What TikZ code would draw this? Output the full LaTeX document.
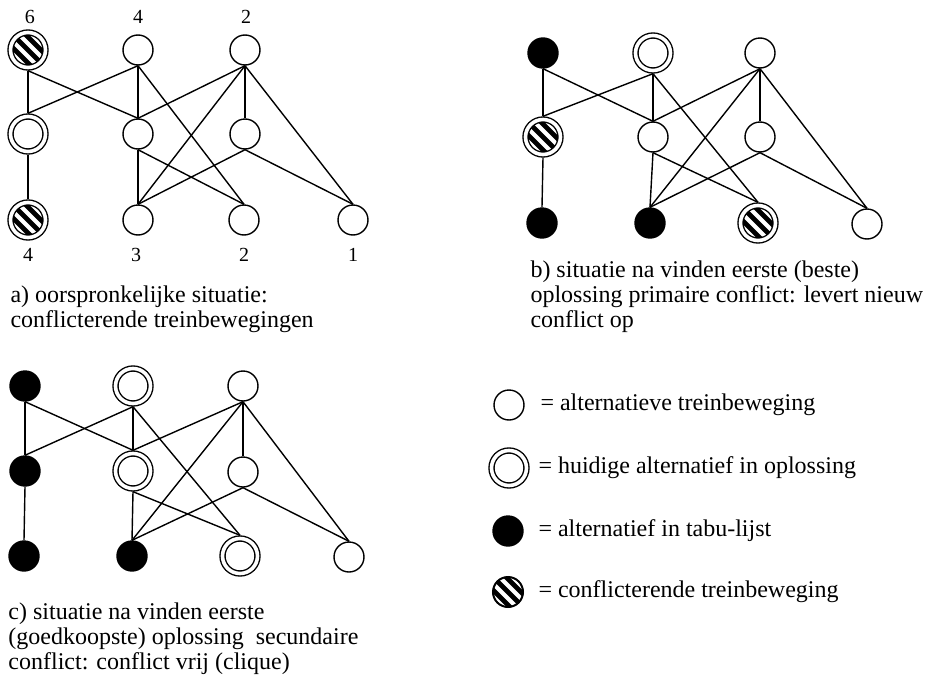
\documentclass[tikz,border=0pt]{standalone}
\usepackage{fontspec}
\setmainfont{Liberation Serif}
\usetikzlibrary{positioning}

\tikzset{every picture/.style={line width=0.75pt}}
\tikzset{
  knoop/.style={circle, draw, minimum size=22.5pt, inner sep=0pt, line width=1.05pt, fill=white},
  huidig/.style={knoop, minimum size=26.25pt, double, double distance=2.7pt, outer sep=2.4pt},
  tabu/.style={knoop, fill=black},
  streep/.style={path picture={
    \foreach \p in {-4.9,0,4.9}
      \draw[line width=3.6pt] ([shift={(\p pt-14pt,\p pt+14pt)}]path picture bounding box.center) -- ([shift={(\p pt+14pt,\p pt-14pt)}]path picture bounding box.center);}},
  verbinding/.style={line width=1.05pt},
  tekst/.style={font=\fontsize{18}{19}\selectfont, align=left, inner sep=0pt},
  getal/.style={font=\fontsize{15}{17}\selectfont, inner sep=0pt}
}

\begin{document}
\begin{tikzpicture}[x=0.75pt,y=0.75pt,yscale=-1,xscale=1]
\path[use as bounding box] (0,0) rectangle (926,682);

% graaf a: oorspronkelijke situatie
\begin{scope}[shift={(28,50)}]
\node[huidig,streep] (aT1) at (0,0) {};
\node[knoop] (aT2) at (110,0) {};
\node[knoop] (aT3) at (217,0) {};
\node[huidig] (aM1) at (0,84) {};
\node[knoop] (aM2) at (110,84) {};
\node[knoop] (aM3) at (217,84) {};
\node[huidig,streep] (aB1) at (0,170) {};
\node[knoop] (aB2) at (110,170) {};
\node[knoop] (aB3) at (216,170) {};
\node[knoop] (aB4) at (325,170) {};
\end{scope}

% Text Node
\node[getal] (aL1) at (30,17) {6};
\node[getal] (aL2) at (138,17) {4};
\node[getal] (aL3) at (246,17) {2};
\node[getal] (aL4) at (28,255) {4};
\node[getal] (aL5) at (136,255) {3};
\node[getal] (aL6) at (244,255) {2};
\node[getal] (aL7) at (353,255) {1};

% graaf b: na eerste oplossing
\begin{scope}[shift={(543,53)}]
\node[tabu] (bT1) at (0,0) {};
\node[huidig] (bT2) at (110,0) {};
\node[knoop] (bT3) at (217,0) {};
\node[huidig,streep] (bM1) at (0,84) {};
\node[knoop] (bM2) at (110,84) {};
\node[knoop] (bM3) at (217,84) {};
\node[tabu] (bB1) at (-1,170) {};
\node[tabu] (bB2) at (107,170) {};
\node[huidig,streep] (bB3) at (215,170) {};
\node[knoop] (bB4) at (324,171) {};
\end{scope}

% graaf c: conflict vrij
\begin{scope}[shift={(25,386)}]
\node[tabu] (cT1) at (0,0) {};
\node[huidig] (cT2) at (108,0) {};
\node[knoop] (cT3) at (218,0) {};
\node[tabu] (cM1) at (0,85) {};
\node[huidig] (cM2) at (108,85) {};
\node[knoop] (cM3) at (218,86) {};
\node[tabu] (cB1) at (-1,170) {};
\node[tabu] (cB2) at (107,170) {};
\node[huidig] (cB3) at (215,170) {};
\node[knoop] (cB4) at (324,171) {};
\end{scope}

% verbindingen, gelijk in alle drie grafen
\foreach \g in {a,b,c}{
  \draw[verbinding] (\g T1.south) -- (\g M1.north);
  \draw[verbinding] (\g T1.south) -- (\g M2.north);
  \draw[verbinding] (\g T2.south) -- (\g M1.north);
  \draw[verbinding] (\g T2.south) -- (\g M2.north);
  \draw[verbinding] (\g T2.south) -- (\g B3.north);
  \draw[verbinding] (\g T3.south) -- (\g M2.north);
  \draw[verbinding] (\g T3.south) -- (\g B2.north);
  \draw[verbinding] (\g T3.south) -- (\g M3.north);
  \draw[verbinding] (\g T3.south) -- (\g B4.north);
  \draw[verbinding] (\g M1.south) -- (\g B1.north);
  \draw[verbinding] (\g M2.south) -- (\g B2.north);
  \draw[verbinding] (\g M2.south) -- (\g B3.north);
  \draw[verbinding] (\g M3.south) -- (\g B2.north);
  \draw[verbinding] (\g M3.south) -- (\g B4.north);
}

% Text Node
\node[tekst, anchor=north west] (aTekst) at (10,285) {a) oorspronkelijke situatie:\\conflicterende treinbewegingen};
% Text Node
\node[tekst, anchor=north west] (bTekst) at (530,260) {b) situatie na vinden eerste (beste)\\oplossing primaire conflict: levert nieuw\\conflict op};
% Text Node
\node[tekst, anchor=north west] (cTekst) at (8,602) {c) situatie na vinden eerste\\(goedkoopste) oplossing\ \ secundaire\\conflict: conflict vrij (clique)};

% legenda
\node[knoop] (lAlt) at (509,405) {};
\node[huidig] (lHuidig) at (509,468) {};
\node[tabu] (lTabu) at (508,531) {};
\node[knoop,streep,line width=1.5pt] (lConflict) at (508,592) {};
\node[tekst, anchor=west] (lAltTekst) at (540,405) {= alternatieve treinbeweging};
\node[tekst, anchor=west] (lHuidigTekst) at (538,468) {= huidige alternatief in oplossing};
\node[tekst, anchor=west] (lTabuTekst) at (538,531) {= alternatief in tabu-lijst};
\node[tekst, anchor=west] (lConflictTekst) at (538,592) {= conflicterende treinbeweging};

\end{tikzpicture}
\end{document}
